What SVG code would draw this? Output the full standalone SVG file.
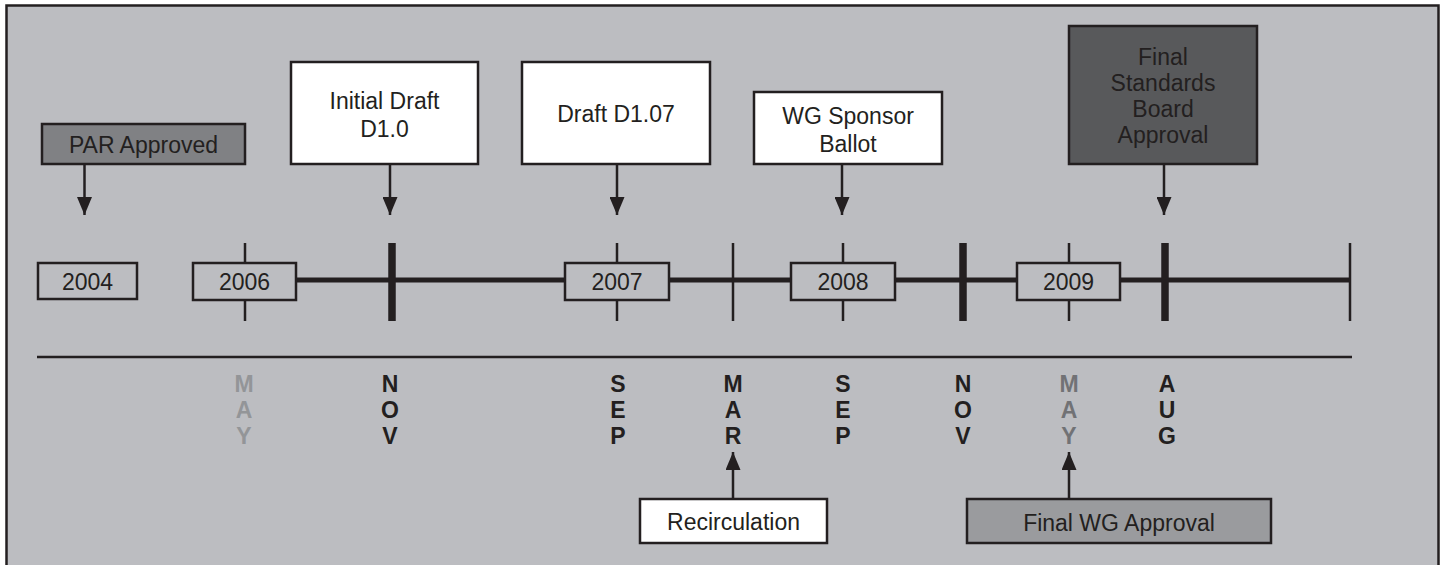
<svg xmlns="http://www.w3.org/2000/svg" width="1448" height="565" viewBox="0 0 1448 565">
<style>
.t{font-family:"Liberation Sans",Arial,sans-serif;font-size:23px;fill:#231f20;text-anchor:middle}
.m{font-family:"Liberation Sans",Arial,sans-serif;font-size:23px;font-weight:bold;fill:#231f20;text-anchor:middle}
.g1{fill:#939598}
.g2{fill:#717275}
.box{stroke:#231f20;stroke-width:2.5}
.yr{fill:#bcbdc1;stroke:#231f20;stroke-width:2.5}
.ln{stroke:#231f20;stroke-width:2.5;fill:none}
.thin{stroke:#231f20;stroke-width:2.5}
.thick{stroke:#231f20;stroke-width:7.5}
</style>
<defs>
<marker id="ah" viewBox="0 0 18 15" refX="18" refY="7.5" markerWidth="18" markerHeight="15" markerUnits="userSpaceOnUse" orient="auto">
<path d="M0,0 L18,7.5 L0,15 Z" fill="#231f20"/>
</marker>
</defs>
<rect x="0" y="0" width="1448" height="565" fill="#ffffff"/>
<rect x="6.5" y="5.5" width="1432" height="570" fill="#bcbdc1" stroke="#231f20" stroke-width="2.5"/>

<g id="timeline">
<line x1="296" y1="280" x2="1350" y2="280" stroke="#231f20" stroke-width="5"/>
<line class="thin" x1="245" y1="243" x2="245" y2="321"/>
<line class="thick" x1="392" y1="243" x2="392" y2="321"/>
<line class="thin" x1="617" y1="243" x2="617" y2="321"/>
<line class="thin" x1="733" y1="243" x2="733" y2="321"/>
<line class="thin" x1="843" y1="243" x2="843" y2="321"/>
<line class="thick" x1="963" y1="243" x2="963" y2="321"/>
<line class="thin" x1="1069" y1="243" x2="1069" y2="321"/>
<line class="thick" x1="1165" y1="243" x2="1165" y2="321"/>
<line class="thin" x1="1350" y1="243" x2="1350" y2="321"/>
<line x1="37" y1="357" x2="1352" y2="357" stroke="#231f20" stroke-width="2.5"/>
</g>

<g id="year2004"><rect class="yr" x="38" y="263" width="99" height="36"/><text class="t" x="87.5" y="290">2004</text></g>
<g id="year2006"><rect class="yr" x="193" y="263" width="103" height="37"/><text class="t" x="244.5" y="290">2006</text></g>
<g id="year2007"><rect class="yr" x="565" y="263" width="104" height="37"/><text class="t" x="617" y="290">2007</text></g>
<g id="year2008"><rect class="yr" x="791" y="263" width="104" height="37"/><text class="t" x="843" y="290">2008</text></g>
<g id="year2009"><rect class="yr" x="1017" y="263" width="103" height="37"/><text class="t" x="1068.5" y="290">2009</text></g>

<g id="par"><rect class="box" x="42" y="124" width="203" height="40" fill="#808184"/><text class="t" x="143.5" y="153">PAR Approved</text></g>
<g id="initial"><rect class="box" x="291" y="62" width="187" height="102" fill="#ffffff"/><text class="t" x="384.5" y="109">Initial Draft</text><text class="t" x="384.5" y="137">D1.0</text></g>
<g id="d107"><rect class="box" x="522" y="62" width="188" height="102" fill="#ffffff"/><text class="t" x="616" y="122">Draft D1.07</text></g>
<g id="wg"><rect class="box" x="754" y="92" width="188" height="72" fill="#ffffff"/><text class="t" x="848" y="124">WG Sponsor</text><text class="t" x="848" y="152">Ballot</text></g>
<g id="final"><rect class="box" x="1069" y="26" width="188" height="138" fill="#58595b"/><text class="t" x="1163" y="65">Final</text><text class="t" x="1163" y="91">Standards</text><text class="t" x="1163" y="117">Board</text><text class="t" x="1163" y="143">Approval</text></g>
<g id="recirc"><rect class="box" x="640" y="499" width="187" height="44" fill="#ffffff"/><text class="t" x="733.5" y="530">Recirculation</text></g>
<g id="finalwg"><rect class="box" x="967" y="499" width="304" height="44" fill="#9a9b9e"/><text class="t" x="1119" y="531">Final WG Approval</text></g>

<g id="months">
<text class="m g1" x="244" y="392">M</text><text class="m g1" x="244" y="418">A</text><text class="m g1" x="244" y="444">Y</text>
<text class="m" x="390" y="392">N</text><text class="m" x="390" y="418">O</text><text class="m" x="390" y="444">V</text>
<text class="m" x="618" y="392">S</text><text class="m" x="618" y="418">E</text><text class="m" x="618" y="444">P</text>
<text class="m" x="733" y="392">M</text><text class="m" x="733" y="418">A</text><text class="m" x="733" y="444">R</text>
<text class="m" x="843" y="392">S</text><text class="m" x="843" y="418">E</text><text class="m" x="843" y="444">P</text>
<text class="m" x="963" y="392">N</text><text class="m" x="963" y="418">O</text><text class="m" x="963" y="444">V</text>
<text class="m g2" x="1069" y="392">M</text><text class="m g2" x="1069" y="418">A</text><text class="m g2" x="1069" y="444">Y</text>
<text class="m" x="1167" y="392">A</text><text class="m" x="1167" y="418">U</text><text class="m" x="1167" y="444">G</text>
</g>

<g id="connectors">
<line class="ln" x1="84.5" y1="164" x2="84.5" y2="215" marker-end="url(#ah)"/>
<line class="ln" x1="390" y1="164" x2="390" y2="215" marker-end="url(#ah)"/>
<line class="ln" x1="617" y1="164" x2="617" y2="215" marker-end="url(#ah)"/>
<line class="ln" x1="842" y1="164" x2="842" y2="215" marker-end="url(#ah)"/>
<line class="ln" x1="1164" y1="164" x2="1164" y2="215" marker-end="url(#ah)"/>
<line class="ln" x1="733" y1="499" x2="733" y2="452" marker-end="url(#ah)"/>
<line class="ln" x1="1069" y1="499" x2="1069" y2="452" marker-end="url(#ah)"/>
</g>
</svg>
